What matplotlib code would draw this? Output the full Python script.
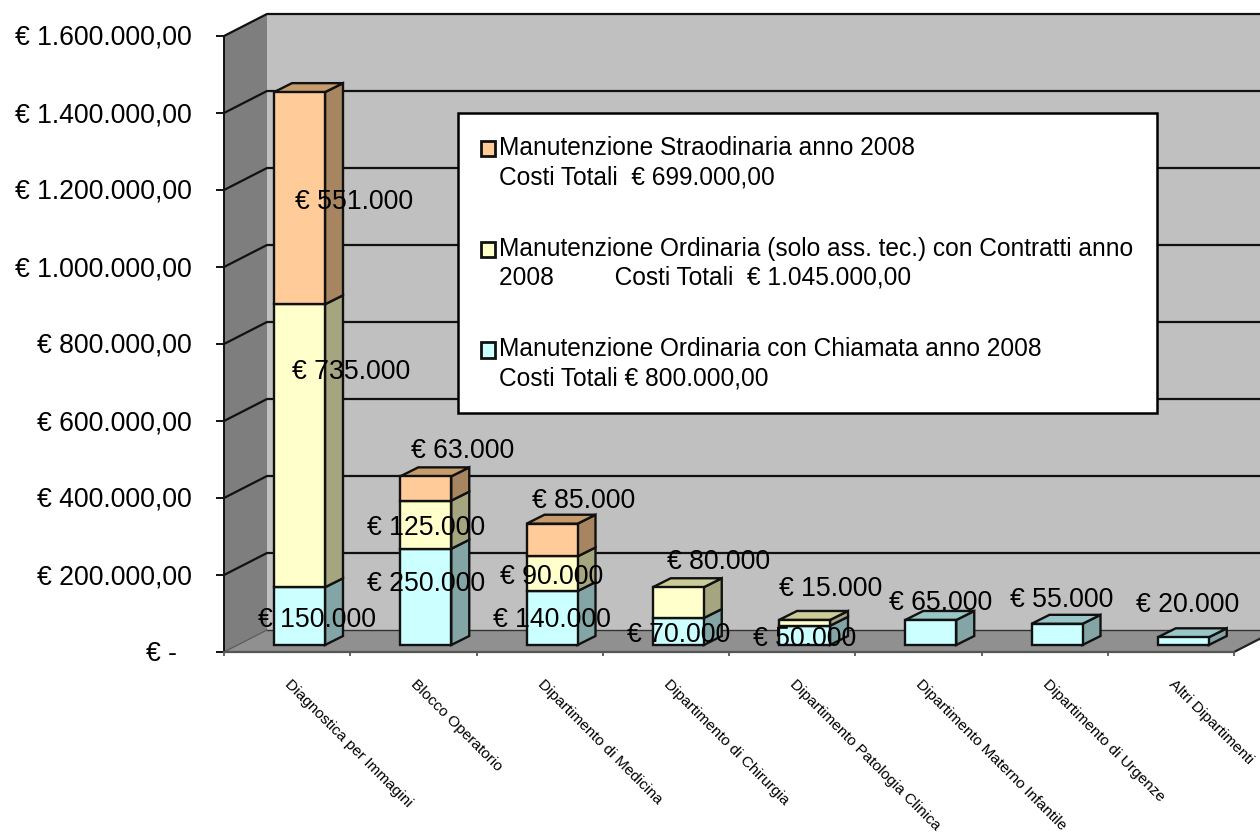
import matplotlib
matplotlib.use("Agg")
import matplotlib.pyplot as plt
from matplotlib.patches import Patch
from matplotlib.transforms import ScaledTranslation

plt.rcParams['font.family'] = ['Liberation Sans', 'DejaVu Sans']

departments = ["Diagnostica per Immagini", "Blocco Operatorio", "Dipartimento di Medicina",
               "Dipartimento di Chirurgia", "Dipartimento Patologia Clinica",
               "Dipartimento Materno Infantile", "Dipartimento di Urgenze", "Altri Dipartimenti"]

chiamata = [150000, 250000, 140000, 70000, 50000, 65000, 55000, 20000]
contratti = [735000, 125000, 90000, 80000, 15000, 0, 0, 0]
straordinaria = [551000, 63000, 85000, 0, 0, 0, 0, 0]

y_ticks = [0, 200000, 400000, 600000, 800000, 1000000, 1200000, 1400000, 1600000]
y_labels = ["€ -  ", "€ 200.000,00", "€ 400.000,00", "€ 600.000,00", "€ 800.000,00",
            "€ 1.000.000,00", "€ 1.200.000,00", "€ 1.400.000,00", "€ 1.600.000,00"]

legend_labels = ["Manutenzione Straodinaria anno 2008\nCosti Totali  € 699.000,00",
                 "Manutenzione Ordinaria (solo ass. tec.) con Contratti anno\n2008         Costi Totali  € 1.045.000,00",
                 "Manutenzione Ordinaria con Chiamata anno 2008\nCosti Totali € 800.000,00"]

# face, side, top
colors_chiamata = ("#CCFFFF", "#84A5A5", "#99C6C6")
colors_contratti = ("#FFFFCC", "#A5A580", "#CCCC99")
colors_straord = ("#FFCC99", "#A68560", "#C69C6D")

# data label shifts from the middle of each segment, pixels
shift_chiamata = [(17, -2), (0, 15), (0, 0), (0, -1), (0, -2), (10, 31), (5, 36), (4, 38)]
shift_contratti = [(52, 76), (0, -1), (0, -1), (40, 43), (26, 36)]
shift_straord = [(55, -2), (37, 39), (32, 41)]

W, H = 1260, 834
LEFT, RIGHT, TOP, BOTTOM = 224, 1234, 36, 652

fig = plt.figure(figsize=(W / 100, H / 100), dpi=100, facecolor="white")
ax = fig.add_axes([LEFT / W, 1 - BOTTOM / H, (RIGHT - LEFT) / W, (BOTTOM - TOP) / H])
ax.patch.set_visible(False)
ax.set_xlim(0, 8)
ax.set_ylim(0, 1600000)

px_x = 8 / (RIGHT - LEFT)
px_y = 1600000 / (BOTTOM - TOP)

wall_dx, wall_dy = 43 * px_x, 22 * px_y
bar_dx, bar_dy = 18 * px_x, 9 * px_y
bar_base = 7 * px_y
bar_width = 51 * px_x
bar_pos = [i + 50 * px_x for i in range(len(departments))]

# walls and floor
ax.fill([0, wall_dx, wall_dx, 0], [0, wall_dy, 1600000 + wall_dy, 1600000],
        color="#7E7E7E", lw=0, clip_on=False, zorder=1)
ax.fill([wall_dx, 9, 9, wall_dx], [wall_dy, wall_dy, 1600000 + wall_dy, 1600000 + wall_dy],
        color="#C0C0C0", lw=0, clip_on=False, zorder=1)
ax.fill([0, 8, 8 + wall_dx, wall_dx], [0, 0, wall_dy, wall_dy],
        color="#909090", lw=0, clip_on=False, zorder=1)

for v in y_ticks[1:]:
    ax.plot([0, wall_dx, 9], [v, v + wall_dy, v + wall_dy], color="#111111", lw=1.6,
            clip_on=False, zorder=2)
ax.plot([wall_dx, 9], [wall_dy, wall_dy], color="#333333", lw=1.0, clip_on=False, zorder=2)
ax.plot([0, wall_dx], [0, wall_dy], color="#555555", lw=0.8, clip_on=False, zorder=2)
ax.plot([8, 8 + wall_dx], [0, wall_dy], color="#222222", lw=1.6, clip_on=False, zorder=2)


def draw_segment(x, bottom, value, colors, with_top):
    ax.bar(x, value, bar_width, bottom=bottom, align="edge", color=colors[0],
           edgecolor="#111111", linewidth=1.7, zorder=5)
    top = bottom + value
    ax.fill([x + bar_width, x + bar_width + bar_dx, x + bar_width + bar_dx, x + bar_width],
            [bottom, bottom + bar_dy, top + bar_dy, top],
            facecolor=colors[1], edgecolor="#111111", lw=1.7, clip_on=False, zorder=4)
    if with_top:
        ax.fill([x, x + bar_width, x + bar_width + bar_dx, x + bar_dx],
                [top, top, top + bar_dy, top + bar_dy],
                facecolor=colors[2], edgecolor="#111111", lw=1.7, clip_on=False, zorder=4)


def draw_label(x, bottom, value, shift):
    text = "€ " + f"{value:,}".replace(",", ".")
    ax.annotate(text, (x + bar_width / 2, bottom + value / 2),
                xytext=(shift[0], shift[1] - 2), textcoords="offset pixels",
                ha="center", va="center", fontsize=19.2, color="black", zorder=8,
                annotation_clip=False)


series = [(chiamata, colors_chiamata, shift_chiamata),
          (contratti, colors_contratti, shift_contratti),
          (straordinaria, colors_straord, shift_straord)]

for i, x in enumerate(bar_pos):
    bottom = bar_base
    total = chiamata[i] + contratti[i] + straordinaria[i]
    for values, colors, shifts in series:
        if values[i] == 0:
            continue
        is_last = bottom + values[i] == bar_base + total
        draw_segment(x, bottom, values[i], colors, is_last)
        draw_label(x, bottom, values[i], shifts[i])
        bottom += values[i]

ax.spines["top"].set_visible(False)
ax.spines["right"].set_visible(False)
ax.spines["left"].set_linewidth(1.4)
ax.spines["left"].set_color("#111111")
ax.spines["bottom"].set_linewidth(1.6)
ax.spines["bottom"].set_color("#555555")
ax.spines["left"].set_zorder(3)
ax.spines["bottom"].set_zorder(3)

ax.set_yticks(y_ticks)
ax.set_yticklabels(y_labels, fontsize=19.2, va="center")
ax.tick_params(axis="y", length=5.8, width=1.4, color="#111111", pad=17.5)
for t in ax.get_yticklabels():
    t.set_transform(t.get_transform() + ScaledTranslation(0, -2 / 100, fig.dpi_scale_trans))

ax.set_xticks(range(9))
ax.set_xticklabels([])
ax.tick_params(axis="x", which="major", length=3, width=1.4, color="#666666")
ax.set_xticks([i + 0.5 + 5 * px_x for i in range(8)], minor=True)
ax.set_xticklabels(departments, minor=True, fontsize=11.1, rotation=-45, ha="left",
                   va="top", rotation_mode="anchor")
ax.tick_params(axis="x", which="minor", length=0, pad=18)

handles = [Patch(facecolor=colors_straord[0], edgecolor="#111111", linewidth=2),
           Patch(facecolor=colors_contratti[0], edgecolor="#111111", linewidth=2),
           Patch(facecolor=colors_chiamata[0], edgecolor="#111111", linewidth=2)]
leg = ax.legend(handles, legend_labels, loc="upper left", bbox_to_anchor=(458 / W, 1 - 113 / H),
                bbox_transform=fig.transFigure, borderaxespad=0, fontsize=17.65, fancybox=False,
                framealpha=1, edgecolor="black", borderpad=0.95, labelspacing=1.95,
                handlelength=0.57, handleheight=0.57, handletextpad=0.17)
leg.get_frame().set_linewidth(1.8)
leg.set_zorder(10)
for t in leg.get_texts():
    t.set_linespacing(1.25)
# markers sit on the first text line of each entry
for handle in leg.legend_handles:
    handle.set_y(handle.get_y() + 10.5)

ax.set_xlim(0, 8)
ax.set_ylim(0, 1600000)
fig.savefig("out.png", dpi=100)
